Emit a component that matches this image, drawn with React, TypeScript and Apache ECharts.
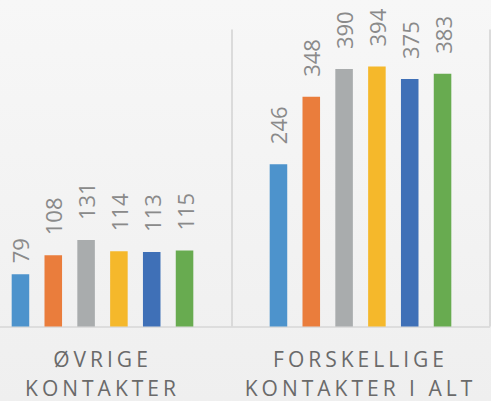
import React, { useEffect, useRef } from "react";
import * as echarts from "echarts";

const categories = ["ØVRIGE\nKONTAKTER", "FORSKELLIGE\nKONTAKTER I ALT"];
const seriesNames = ["Serie 1", "Serie 2", "Serie 3", "Serie 4", "Serie 5", "Serie 6"];
const series1 = [79, 246];
const series2 = [108, 348];
const series3 = [131, 390];
const series4 = [114, 394];
const series5 = [113, 375];
const series6 = [115, 383];
const allSeries = [series1, series2, series3, series4, series5, series6];
const colors = ["#4d93cc", "#ea7d3c", "#a9acad", "#f5b82b", "#3f70b7", "#68ab50"];

const labelLines = categories.flatMap((c) => c.split("\n"));

export default function App() {
  const ref = useRef<HTMLDivElement>(null);
  useEffect(() => {
    if (!ref.current) return;
    const el = ref.current;
    const chart = echarts.init(el, undefined, { renderer: "svg" });
    const spaceOut = () => {
      el.querySelectorAll("text").forEach((t) => {
        if (labelLines.includes((t.textContent || "").trim())) {
          t.setAttribute("letter-spacing", "4px");
        }
      });
    };
    chart.on("finished", spaceOut);
    chart.setOption({
      animation: false,
      backgroundColor: {
        type: "linear",
        x: 0, y: 0, x2: 0, y2: 1,
        colorStops: [
          { offset: 0, color: "#f7f7f7" },
          { offset: 1, color: "#efefef" },
        ],
      },
      grid: {
        left: -26.5,
        right: 1.5,
        top: 29.5,
        bottom: 74.5,
        containLabel: false,
        outerBoundsMode: "none",
      },
      xAxis: {
        type: "category",
        data: categories,
        axisLine: { show: true, lineStyle: { color: "#d6d6d6", width: 1.5 } },
        axisTick: { show: false },
        splitLine: { show: true, lineStyle: { color: "#d2d2d2", width: 1.5 } },
        axisLabel: {
          color: "#6a6a6a",
          fontSize: 21,
          lineHeight: 29,
          margin: 18,
          fontFamily: "Open Sans",
          interval: 0,
          hideOverlap: false,
        },
      },
      yAxis: { type: "value", min: 0, max: 450, show: false, splitLine: { show: false } },
      series: allSeries.map((vals, i) => ({
        type: "bar",
        name: seriesNames[i],
        barGap: "87%",
        barCategoryGap: "29.6%",
        itemStyle: { color: colors[i] },
        data: vals.map((v) => ({
          value: v,
          label: { distance: v < 100 ? 11 : 20 },
        })),
        label: {
          show: true,
          position: "top",
          rotate: 90,
          align: "left",
          verticalAlign: "middle",
          color: "#8a8a8a",
          fontSize: 22,
          fontFamily: "Open Sans",
        },
      })),
    });
    spaceOut();
    const t = setTimeout(spaceOut, 30);
    return () => {
      clearTimeout(t);
      chart.dispose();
    };
  }, []);
  return <div ref={ref} style={{ width: 491, height: 401, position: "absolute", left: 0, top: 0 }} />;
}
